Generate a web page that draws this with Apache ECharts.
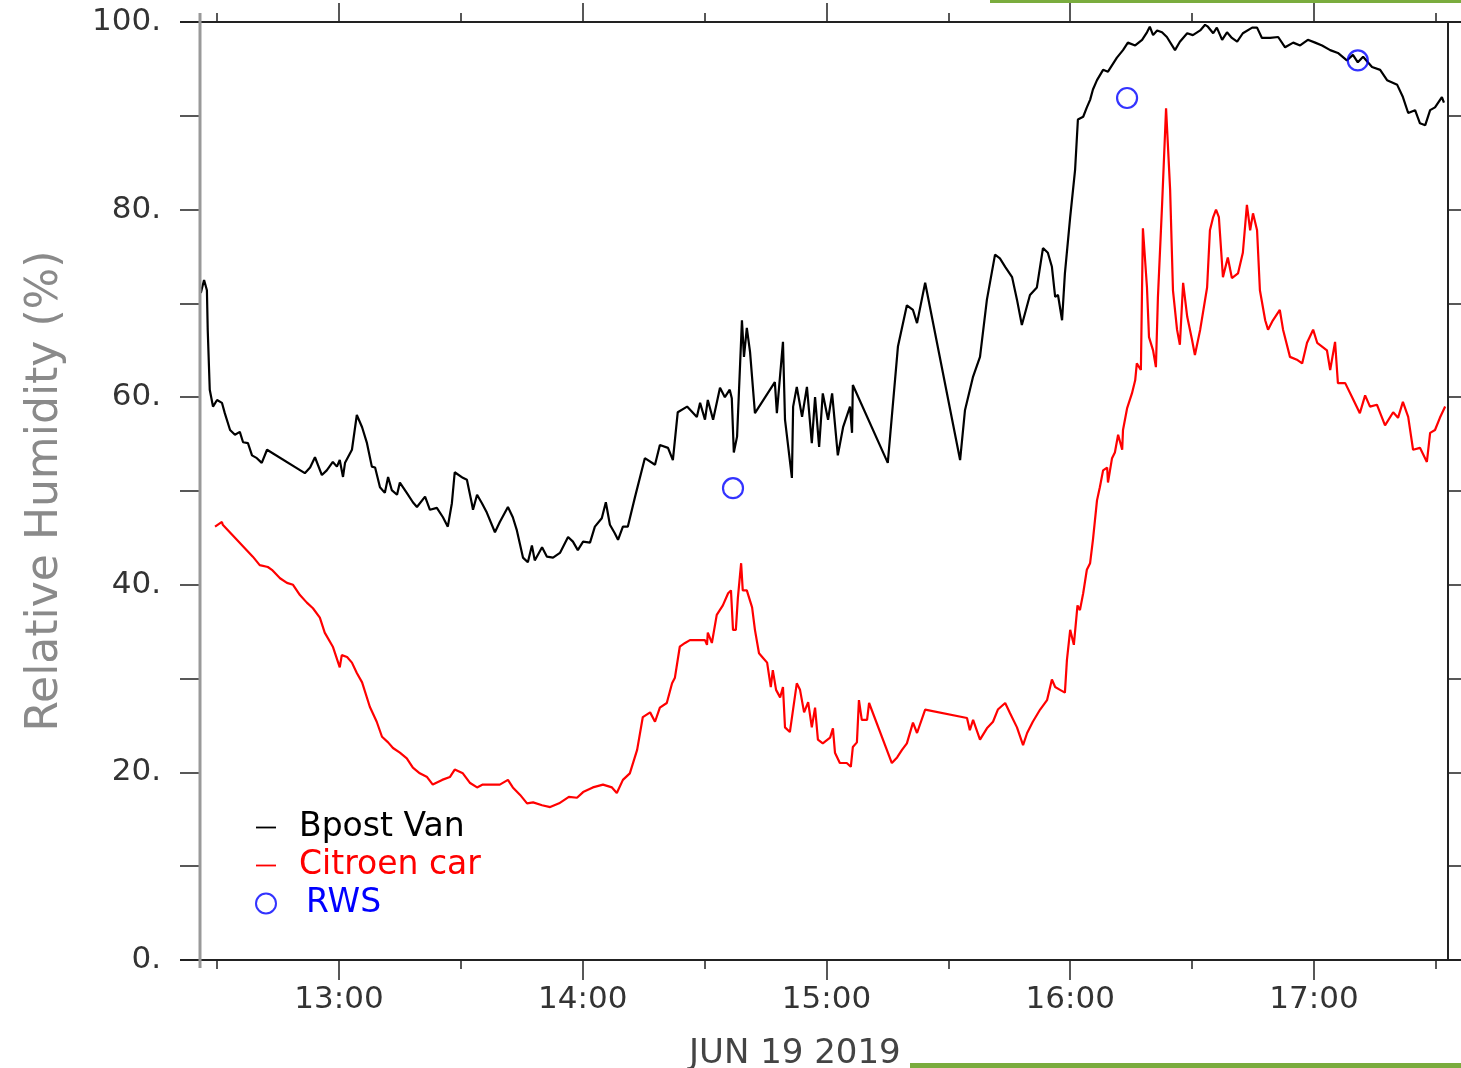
<!DOCTYPE html>
<html>
<head>
<meta charset="utf-8">
<script src="https://cdn.jsdelivr.net/npm/echarts@6/dist/echarts.min.js"></script>
<style>
  html, body { margin: 0; padding: 0; background: #fff; }
  #main { width: 1461px; height: 1068px; }
</style>
</head>
<body>
<div id="main"></div>
<script>
// time = minutes after 12:00, value = relative humidity (%)
const hourTicks = [60, 120, 180, 240, 300];
const halfHourTicks = [30, 90, 150, 210, 270, 330];

const bpostVan = [
  [26.0, 71.1], [26.8, 72.5], [27.5, 71.4], [27.7, 67.2], [28.2, 60.8], [29.0, 59.0], [30.0, 59.7],
  [31.2, 59.4], [31.9, 58.3], [33.2, 56.5], [34.4, 56.0], [35.6, 56.3], [36.4, 55.2], [37.6, 55.1],
  [38.6, 53.8], [39.8, 53.5], [41.0, 53.0], [42.3, 54.4], [51.6, 51.9], [52.9, 52.5], [54.1, 53.6],
  [55.8, 51.7], [57.0, 52.2], [58.5, 53.1], [59.5, 52.6], [60.2, 53.3], [61.0, 51.5], [61.5, 53.0],
  [63.2, 54.4], [64.4, 58.1], [65.7, 56.8], [66.9, 55.1], [68.1, 52.6], [68.9, 52.5], [70.1, 50.4],
  [71.3, 49.8], [72.1, 51.5], [73.0, 50.1], [74.3, 49.6], [75.0, 50.9], [76.7, 49.8], [78.2, 48.8],
  [79.2, 48.3], [81.2, 49.4], [82.4, 48.0], [84.1, 48.2], [85.6, 47.2], [86.8, 46.2], [87.8, 48.7],
  [88.5, 52.0], [90.5, 51.4], [91.5, 51.2], [92.7, 48.7], [93.0, 48.0], [94.0, 49.6], [95.2, 48.7],
  [96.4, 47.7], [98.4, 45.6], [99.6, 46.7], [101.6, 48.3], [102.8, 47.2], [103.8, 45.8], [105.3, 42.9],
  [106.5, 42.4], [107.5, 44.2], [108.2, 42.6], [110.0, 44.0], [111.2, 43.0], [112.7, 42.9], [114.4, 43.4],
  [116.4, 45.1], [117.6, 44.6], [118.8, 43.7], [120.1, 44.6], [121.8, 44.5], [123.0, 46.2], [124.7, 47.1],
  [125.7, 48.8], [126.7, 46.4], [127.9, 45.5], [128.7, 44.8], [129.9, 46.2], [131.1, 46.2], [132.9, 49.4],
  [135.3, 53.5], [137.8, 52.8], [139.0, 54.9], [141.0, 54.6], [142.2, 53.3], [143.4, 58.4], [145.7, 59.0],
  [148.1, 57.9], [148.9, 59.4], [150.1, 57.6], [150.8, 59.7], [152.1, 57.6], [153.8, 61.0], [155.0, 60.0],
  [156.2, 60.8], [156.7, 59.9], [157.2, 54.1], [158.0, 55.8], [159.2, 68.2], [159.7, 64.3], [160.4, 67.4],
  [161.2, 64.8], [162.4, 58.3], [167.3, 61.6], [167.8, 58.3], [169.3, 65.9], [169.8, 57.6], [171.5, 51.4],
  [171.8, 59.0], [172.7, 61.1], [174.0, 57.9], [175.2, 61.1], [176.4, 55.1], [177.2, 60.0], [178.2, 54.7],
  [179.1, 60.4], [180.4, 57.6], [181.4, 60.4], [182.8, 53.8], [184.1, 56.8], [185.8, 59.0], [186.3, 56.2],
  [186.5, 61.3], [195.1, 53.0], [197.6, 65.4], [199.8, 69.8], [201.3, 69.3], [202.3, 67.9], [204.3, 72.2],
  [212.9, 53.3], [214.1, 58.6], [216.1, 62.2], [217.8, 64.3], [219.5, 70.4], [221.5, 75.2], [222.7, 74.8],
  [224.0, 73.9], [225.7, 72.8], [226.9, 70.4], [228.1, 67.7], [230.1, 70.9], [231.8, 71.7], [233.3, 75.9],
  [234.5, 75.4], [235.5, 73.9], [236.3, 70.7], [237.0, 70.9], [238.0, 68.2], [238.7, 73.2], [240.0, 79.2],
  [241.2, 84.2], [241.9, 89.6], [243.2, 89.9], [244.1, 90.9], [244.9, 91.7], [245.6, 92.8], [246.6, 93.8],
  [248.1, 94.9], [249.3, 94.7], [251.5, 96.2], [253.0, 97.0], [254.2, 97.8], [256.0, 97.5], [257.7, 98.1],
  [258.9, 98.9], [259.6, 99.5], [260.4, 98.6], [261.4, 99.1], [262.6, 98.9], [263.8, 98.4], [265.8, 97.0],
  [267.0, 97.9], [268.8, 98.8], [270.2, 98.6], [272.0, 99.1], [273.2, 99.7], [273.9, 99.5], [275.2, 98.8],
  [276.1, 99.4], [277.4, 98.1], [278.6, 98.9], [279.8, 98.3], [281.1, 97.9], [282.5, 98.8], [284.8, 99.4],
  [286.0, 99.4], [287.2, 98.3], [289.2, 98.3], [291.2, 98.4], [292.9, 97.3], [294.9, 97.8], [296.6, 97.5],
  [298.5, 98.1], [300.3, 97.8], [302.0, 97.5], [304.0, 97.0], [305.9, 96.7], [308.1, 95.9], [309.6, 96.5],
  [310.8, 95.7], [312.1, 96.3], [314.3, 95.2], [316.3, 94.9], [318.0, 93.8], [320.5, 93.3], [321.9, 92.0],
  [323.2, 90.3], [324.9, 90.6], [326.1, 89.2], [327.4, 89.0], [328.6, 90.6], [329.8, 90.9], [331.5, 92.0],
  [332.0, 91.4]
];

const citroenCar = [
  [29.5, 46.2], [31.2, 46.7], [31.4, 46.4], [38.8, 43.0], [40.5, 42.1], [42.5, 41.9], [43.5, 41.6],
  [45.5, 40.7], [47.2, 40.2], [48.7, 40.0], [50.4, 38.9], [52.1, 38.1], [53.6, 37.5], [55.3, 36.5],
  [56.5, 34.9], [58.5, 33.4], [60.2, 31.2], [60.7, 32.5], [62.0, 32.3], [63.2, 31.7], [64.4, 30.6],
  [65.7, 29.6], [67.6, 27.0], [69.3, 25.4], [70.6, 23.8], [72.1, 23.2], [73.3, 22.6], [75.0, 22.1],
  [76.7, 21.5], [78.2, 20.5], [79.9, 19.9], [81.7, 19.5], [83.1, 18.7], [85.4, 19.2], [87.3, 19.5],
  [88.5, 20.3], [90.5, 19.9], [92.2, 18.9], [94.0, 18.4], [95.4, 18.7], [97.7, 18.7], [99.6, 18.7],
  [101.6, 19.2], [102.8, 18.4], [104.6, 17.6], [106.3, 16.7], [107.8, 16.8], [110.0, 16.5], [112.0, 16.3],
  [114.2, 16.7], [116.6, 17.4], [118.6, 17.3], [120.1, 17.9], [122.5, 18.4], [125.0, 18.7], [127.2, 18.4],
  [128.4, 17.8], [129.9, 19.2], [131.6, 19.9], [133.4, 22.4], [134.8, 25.9], [136.6, 26.4], [137.8, 25.4],
  [139.0, 26.9], [140.7, 27.4], [142.0, 29.5], [142.7, 30.1], [143.9, 33.4], [145.2, 33.8], [146.4, 34.1],
  [148.1, 34.1], [150.1, 34.1], [150.6, 33.6], [150.8, 34.9], [151.8, 33.8], [153.0, 36.8], [154.5, 37.8],
  [155.8, 39.1], [156.5, 39.4], [157.0, 35.2], [157.7, 35.2], [158.2, 38.6], [159.0, 42.3], [159.4, 39.4],
  [160.4, 39.4], [161.7, 37.6], [162.4, 35.2], [163.4, 32.7], [164.4, 32.2], [165.4, 31.7], [166.3, 29.1],
  [166.8, 30.9], [167.6, 28.8], [168.6, 28.0], [169.3, 29.1], [169.8, 24.8], [171.0, 24.3], [172.7, 29.5],
  [173.5, 28.8], [174.5, 26.4], [175.5, 27.5], [176.4, 24.8], [177.2, 26.9], [177.9, 23.5], [179.1, 23.1],
  [180.9, 23.7], [181.6, 24.7], [182.1, 22.1], [183.3, 21.0], [185.0, 21.0], [186.0, 20.6], [186.5, 22.7],
  [187.5, 23.2], [188.0, 27.7], [188.7, 25.6], [190.0, 25.6], [190.5, 27.4], [196.1, 21.0], [197.4, 21.6],
  [198.6, 22.4], [199.8, 23.1], [201.3, 25.3], [202.3, 24.2], [204.3, 26.7], [214.6, 25.8], [215.3, 24.5],
  [216.1, 25.6], [217.8, 23.5], [219.5, 24.7], [221.0, 25.4], [222.2, 26.7], [224.0, 27.4], [225.2, 26.3],
  [226.9, 24.8], [228.4, 22.9], [229.4, 24.2], [230.8, 25.4], [232.6, 26.7], [234.3, 27.7], [235.5, 29.9],
  [236.3, 29.1], [237.5, 28.8], [238.7, 28.5], [239.2, 32.0], [240.0, 35.2], [240.9, 33.6], [241.8, 37.8],
  [242.4, 37.3], [243.2, 39.1], [244.1, 41.6], [244.9, 42.3], [245.6, 44.8], [246.6, 49.0], [247.3, 50.4],
  [248.1, 52.2], [249.1, 52.5], [249.3, 50.9], [250.3, 53.5], [251.0, 54.1], [251.8, 56.0], [252.8, 54.4],
  [253.0, 56.5], [254.0, 58.8], [255.2, 60.4], [256.0, 61.8], [256.4, 63.6], [257.4, 62.9], [257.9, 78.0],
  [258.9, 71.7], [259.4, 66.4], [260.4, 65.0], [261.1, 63.2], [261.6, 70.7], [262.6, 80.3], [263.6, 90.8],
  [264.6, 82.1], [265.3, 71.4], [266.3, 67.2], [267.0, 65.6], [267.8, 72.2], [268.8, 68.6], [270.0, 66.1],
  [270.7, 64.5], [272.0, 67.2], [273.7, 71.7], [274.4, 77.8], [275.2, 79.2], [275.9, 80.0], [276.6, 79.2],
  [277.6, 72.8], [278.8, 74.9], [279.8, 72.7], [281.3, 73.2], [282.5, 75.4], [283.5, 80.5], [284.3, 77.8],
  [285.0, 79.6], [286.0, 77.8], [286.7, 71.4], [288.0, 68.2], [288.7, 67.2], [289.9, 68.2], [291.6, 69.3],
  [292.4, 67.2], [294.1, 64.3], [295.8, 64.0], [297.1, 63.6], [298.3, 65.8], [299.8, 67.2], [300.8, 65.8],
  [302.0, 65.4], [303.2, 65.0], [304.0, 62.9], [305.2, 65.9], [305.9, 61.5], [307.7, 61.5], [309.4, 60.0],
  [311.3, 58.3], [312.6, 60.2], [313.8, 59.0], [315.5, 59.2], [317.5, 57.0], [319.5, 58.4], [320.7, 57.8],
  [321.9, 59.5], [323.2, 57.9], [324.4, 54.4], [326.1, 54.6], [327.8, 53.1], [328.6, 56.2], [329.8, 56.5],
  [331.0, 57.8], [332.3, 59.0]
];

const rws = [[157.0, 50.3], [254.0, 91.9], [310.8, 95.9]];

const font = 'DejaVu Sans';

let myChart = echarts.init(document.getElementById('main'));

const tickStyle = { color: '#222', width: 1.5 };

option = {
  animation: false,
  backgroundColor: '#fff',
  grid: { left: 200, right: 13, top: 22, bottom: 108, outerBoundsMode: 'none' },
  legend: {
    orient: 'vertical',
    left: 255,
    top: 811,
    padding: 0,
    itemWidth: 20,
    itemHeight: 20,
    itemGap: 5,
    textStyle: { fontFamily: font, fontSize: 33, lineHeight: 32, padding: [0, 0, 0, 18] },
    data: [
      { name: 'Bpost Van', icon: 'path://M0,0H20V1.8H0Z', textStyle: { color: '#000' } },
      { name: 'Citroen car', icon: 'path://M0,0H20V1.8H0Z', textStyle: { color: '#ff0000' } },
      { name: 'RWS', icon: 'circle', textStyle: { color: '#0000ff', padding: [0, 0, 0, 25] } }
    ]
  },
  xAxis: [
    {
      type: 'value', position: 'bottom', min: 25.8, max: 333,
      axisLine: { show: false }, splitLine: { show: false },
      axisTick: { customValues: hourTicks, length: 20, lineStyle: tickStyle },
      axisLabel: {
        customValues: hourTicks, margin: 24, color: '#333', fontFamily: font, fontSize: 31,
        formatter: v => (12 + v / 60) + ':00'
      }
    },
    {
      type: 'value', position: 'bottom', min: 25.8, max: 333,
      axisLine: { show: false }, splitLine: { show: false }, axisLabel: { show: false },
      axisTick: { customValues: halfHourTicks, length: 9, lineStyle: tickStyle }
    },
    {
      type: 'value', position: 'top', min: 25.8, max: 333,
      axisLine: { show: false }, splitLine: { show: false }, axisLabel: { show: false },
      axisTick: { customValues: hourTicks, length: 19, lineStyle: tickStyle }
    },
    {
      type: 'value', position: 'top', min: 25.8, max: 333,
      axisLine: { show: false }, splitLine: { show: false }, axisLabel: { show: false },
      axisTick: { customValues: halfHourTicks, length: 9, lineStyle: tickStyle }
    }
  ],
  yAxis: [
    {
      type: 'value', position: 'left', min: 0, max: 100, interval: 10,
      name: 'Relative Humidity (%)', nameLocation: 'middle', nameGap: 132,
      nameTextStyle: { color: '#8a8a8a', fontFamily: font, fontSize: 44 },
      axisLine: { show: false }, splitLine: { show: false },
      axisTick: { length: 20, lineStyle: tickStyle },
      axisLabel: {
        margin: 39, color: '#333', fontFamily: font, fontSize: 31,
        formatter: v => (v % 20 === 0 ? v + '.' : '')
      }
    },
    {
      type: 'value', position: 'right', min: 0, max: 100, interval: 10,
      axisLine: { show: true, lineStyle: { color: '#222', width: 2 } },
      splitLine: { show: false }, axisLabel: { show: false },
      axisTick: { length: 13, lineStyle: tickStyle }
    }
  ],
  graphic: [
    { type: 'line', shape: { x1: 180, y1: 22, x2: 1461, y2: 22 }, style: { stroke: '#222', lineWidth: 2 } },
    { type: 'line', shape: { x1: 180, y1: 960, x2: 1461, y2: 960 }, style: { stroke: '#222', lineWidth: 2 } },
    { type: 'line', shape: { x1: 200, y1: 13, x2: 200, y2: 968 }, style: { stroke: '#999', lineWidth: 3 }, z: 10 },
    { type: 'text', left: 689, top: 1037, style: { text: 'JUN 19 2019', fill: '#444', font: '34px "DejaVu Sans"' } },
    { type: 'rect', shape: { x: 990, y: 0, width: 471, height: 3 }, style: { fill: '#7aac3e' } },
    { type: 'rect', shape: { x: 910, y: 1063, width: 551, height: 5 }, style: { fill: '#7aac3e' } }
  ],
  series: [
    {
      name: 'Bpost Van', type: 'line', data: bpostVan, showSymbol: false, symbol: 'none',
      lineStyle: { color: '#000', width: 2.2 }, itemStyle: { color: '#000' }
    },
    {
      name: 'Citroen car', type: 'line', data: citroenCar, showSymbol: false, symbol: 'none',
      lineStyle: { color: '#ff0000', width: 2.2 }, itemStyle: { color: '#ff0000' }
    },
    {
      name: 'RWS', type: 'scatter', data: rws, symbol: 'circle', symbolSize: 20, z: 5,
      itemStyle: { color: 'rgba(0,0,0,0)', borderColor: '#0000ff', borderWidth: 2.2 }
    }
  ]
};

myChart.setOption(option);
</script>
</body>
</html>
